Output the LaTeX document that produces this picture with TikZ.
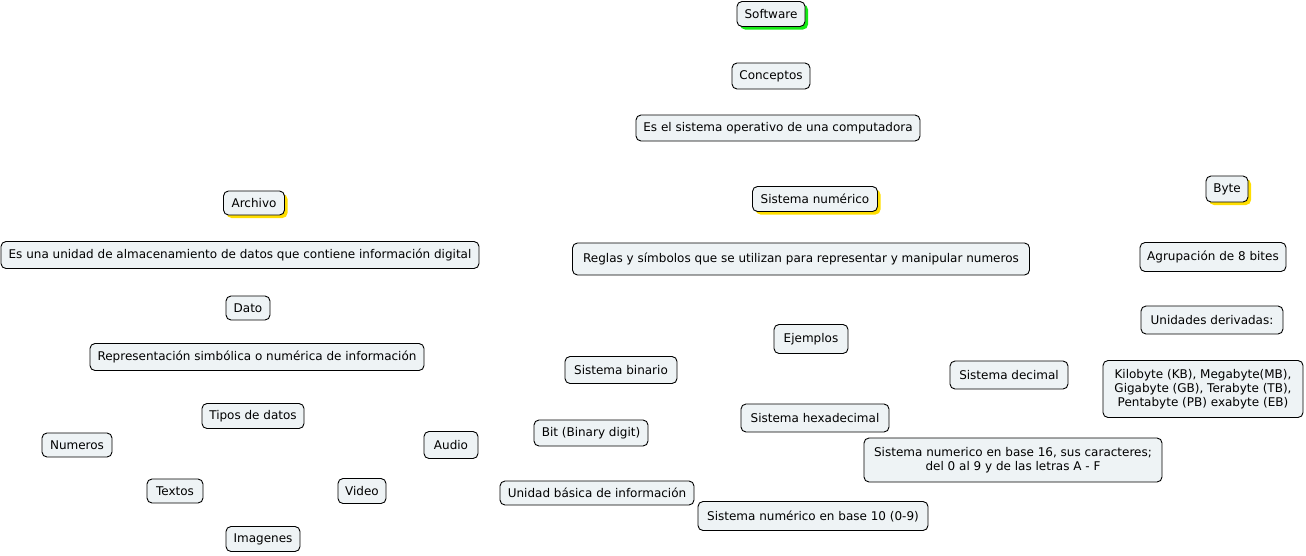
\documentclass[tikz,border=0pt]{standalone}
\usepackage{fontspec}
\setmainfont{DejaVu Sans}
\usetikzlibrary{shadows}
\definecolor{cajafondo}{RGB}{238,243,245}
\definecolor{sombraverde}{RGB}{20,235,20}
\definecolor{sombraamarilla}{RGB}{255,222,0}
\tikzset{
  concepto/.style={draw, line width=0.9pt, rounded corners=5pt, fill=cajafondo, align=center,
    font=\fontsize{12}{14}\selectfont, inner xsep=3pt, inner ysep=2pt},
  raizverde/.style={drop shadow={shadow xshift=3pt, shadow yshift=-3pt, fill=sombraverde, opacity=1}},
  raizamarilla/.style={drop shadow={shadow xshift=3pt, shadow yshift=-3pt, fill=sombraamarilla, opacity=1}}
}
\begin{document}
\begin{tikzpicture}[x=1pt,y=-1pt]
    \useasboundingbox (0,0) rectangle (1306,555);

    % rama principal
    \node[concepto, raizverde, minimum width=68pt, minimum height=25pt] (software) at (771,14) {Software};
    \node[concepto, minimum width=78pt, minimum height=26pt] (conceptos) at (771,76) {Conceptos};
    \node[concepto, minimum width=284pt, minimum height=26pt] (soDef) at (778,128) {Es el sistema operativo de una computadora};

    % archivo y dato
    \node[concepto, raizamarilla, minimum width=61pt, minimum height=24pt] (archivo) at (254,203) {Archivo};
    \node[concepto, minimum width=478pt, minimum height=27pt] (archivoDef) at (240,255) {Es una unidad de almacenamiento de datos que contiene información digital};
    \node[concepto, minimum width=44pt, minimum height=24pt] (dato) at (248,308) {Dato};
    \node[concepto, minimum width=334pt, minimum height=27pt] (datoDef) at (257,357) {Representación simbólica o numérica de información};

    % tipos de datos
    \node[concepto, minimum width=102pt, minimum height=25pt] (tipos) at (253,416) {Tipos de datos};
    \node[concepto, minimum width=70pt, minimum height=24pt] (numeros) at (77,445) {Numeros};
    \node[concepto, minimum width=54pt, minimum height=27pt] (audio) at (451,445) {Audio};
    \node[concepto, minimum width=56pt, minimum height=24pt] (textos) at (175,491) {Textos};
    \node[concepto, minimum width=48pt, minimum height=25pt] (video) at (362,491) {Video};
    \node[concepto, minimum width=74pt, minimum height=25pt] (imagenes) at (263,539) {Imagenes};

    % sistema numerico
    \node[concepto, raizamarilla, minimum width=125pt, minimum height=25pt] (sisNum) at (815,199) {Sistema numérico};
    \node[concepto, minimum width=457pt, minimum height=32pt] (sisNumDef) at (801,259) {Reglas y símbolos que se utilizan para representar y manipular numeros};
    \node[concepto, minimum width=74pt, minimum height=29pt] (ejemplos) at (811,339) {Ejemplos};
    \node[concepto, minimum width=112pt, minimum height=27pt] (binario) at (621,370) {Sistema binario};
    \node[concepto, minimum width=114pt, minimum height=26pt] (bit) at (591,433) {Bit (Binary digit)};
    \node[concepto, minimum width=194pt, minimum height=24pt] (bitDef) at (597,493) {Unidad básica de información};
    \node[concepto, minimum width=148pt, minimum height=28pt] (hexa) at (815,418) {Sistema hexadecimal};
    \node[concepto, minimum width=118pt, minimum height=28pt] (decimal) at (1009,375) {Sistema decimal};
    \node[concepto, minimum width=298pt, minimum height=44pt] (hexaDef) at (1013,460) {Sistema numerico en base 16, sus caracteres;\\del 0 al 9 y de las letras A - F};
    \node[concepto, minimum width=230pt, minimum height=29pt] (decimalDef) at (813,516) {Sistema numérico en base 10 (0-9)};

    % byte
    \node[concepto, raizamarilla, minimum width=42pt, minimum height=26pt] (byte) at (1227,189) {Byte};
    \node[concepto, minimum width=146pt, minimum height=29pt] (byteDef) at (1213,257) {Agrupación de 8 bites};
    \node[concepto, minimum width=142pt, minimum height=28pt] (unidades) at (1212,320) {Unidades derivadas:};
    \node[concepto, minimum width=200pt, minimum height=57pt] (unidadesDef) at (1203,389) {Kilobyte (KB), Megabyte(MB),\\Gigabyte (GB), Terabyte (TB),\\Pentabyte (PB) exabyte (EB)};
\end{tikzpicture}
\end{document}
